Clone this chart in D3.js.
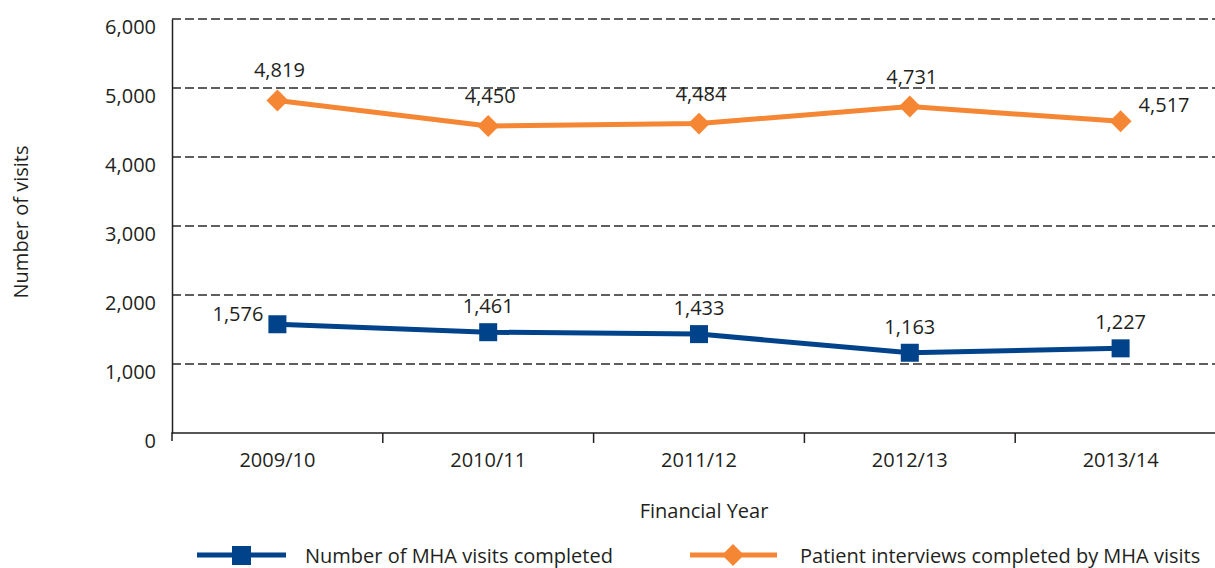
<!DOCTYPE html>
<html><head><meta charset="utf-8">
<script src="https://cdn.jsdelivr.net/npm/d3@7"></script>
<style>body{margin:0;background:#fff}svg{display:block}text{font-family:"Open Sans","Noto Sans",sans-serif;fill:#231f20}</style>
</head><body><svg id="c" width="1215" height="568"></svg>
<script>
const years = ["2009/10","2010/11","2011/12","2012/13","2013/14"];
const visits = [1576,1461,1433,1163,1227];
const interviews = [4819,4450,4484,4731,4517];
const yTicks = [0,1000,2000,3000,4000,5000,6000];
const seriesNames = ["Number of MHA visits completed","Patient interviews completed by MHA visits"];
const blue = "#00438a", orange = "#f58634";

(function(){
const svg = d3.select("#c");
const fs = 20;
const pl = 172, pr = 1226, pt = 19, pb = 433;
const x = d3.scaleBand().domain(years).range([pl,pr]);
const y = d3.scaleLinear().domain([0,6000]).range([pb,pt]);
const cx = d => x(d)+x.bandwidth()/2;

// grid
svg.append("g").selectAll("line").data(yTicks.filter(t=>t>0)).join("line")
  .attr("x1",pl).attr("x2",1215).attr("y1",d=>y(d)).attr("y2",d=>y(d))
  .attr("stroke","#2a2a2a").attr("stroke-width",1.3).attr("stroke-dasharray","9,4");

// y axis
const ya = svg.append("g").attr("transform",`translate(${pl},0)`)
  .call(d3.axisLeft(y).tickValues(yTicks).tickFormat(d3.format(",")).tickSize(0).tickPadding(16));
ya.select(".domain").attr("stroke","#231f20").attr("stroke-width",1.5);
ya.selectAll("text").attr("font-size",fs).attr("dy","0.7em").style("font-family",'"Open Sans","Noto Sans",sans-serif').attr("fill","#231f20");

// x axis
const xa = svg.append("g").attr("transform",`translate(0,${pb})`)
  .call(d3.axisBottom(x).tickSize(0).tickPadding(20));
xa.select(".domain").attr("stroke","#231f20").attr("stroke-width",1.5).attr("d",`M${pl},8V0H1215`);
xa.selectAll("text").attr("font-size",fs).style("font-family",'"Open Sans","Noto Sans",sans-serif').attr("fill","#231f20");
svg.append("g").selectAll("line").data(years.slice(1)).join("line")
  .attr("x1",d=>x(d)).attr("x2",d=>x(d)).attr("y1",pb).attr("y2",pb+10)
  .attr("stroke","#231f20").attr("stroke-width",1.5);

// titles
svg.append("text").attr("transform","translate(28,222) rotate(-90)").attr("text-anchor","middle")
  .attr("font-size",fs).text("Number of visits");
svg.append("text").attr("x",704).attr("y",518).attr("text-anchor","middle").attr("font-size",fs).text("Financial Year");

const line = d3.line().x((d,i)=>cx(years[i])).y(d=>y(d));
svg.append("path").datum(visits).attr("d",line).attr("fill","none").attr("stroke",blue).attr("stroke-width",5);
svg.append("path").datum(interviews).attr("d",line).attr("fill","none").attr("stroke",orange).attr("stroke-width",5);

svg.append("g").selectAll("rect").data(visits).join("rect")
  .attr("x",(d,i)=>cx(years[i])-9).attr("y",d=>y(d)-9).attr("width",18).attr("height",18).attr("fill",blue);
const diamond = d3.symbol().type(d3.symbolSquare).size(240);
svg.append("g").selectAll("path").data(interviews).join("path")
  .attr("d",diamond()).attr("transform",(d,i)=>`translate(${cx(years[i])},${y(d)}) rotate(45)`).attr("fill",orange);

const fmt = d3.format(",");
svg.append("g").selectAll("text").data(interviews).join("text")
  .attr("x",(d,i)=>i===4?cx(years[i])+18:cx(years[i])+2).attr("y",(d,i)=>i===4?y(d)-9:y(d)-23)
  .attr("text-anchor",(d,i)=>i===4?"start":"middle").attr("font-size",fs).text(d=>fmt(d));
svg.append("g").selectAll("text").data(visits).join("text")
  .attr("x",(d,i)=>i===0?cx(years[i])-14:cx(years[i])).attr("y",(d,i)=>i===0?y(d)-3:y(d)-19)
  .attr("text-anchor",(d,i)=>i===0?"end":"middle").attr("font-size",fs).text(d=>fmt(d));

// legend
const lg = svg.append("g");
lg.append("line").attr("x1",197).attr("x2",286).attr("y1",555).attr("y2",555).attr("stroke",blue).attr("stroke-width",5);
lg.append("rect").attr("x",232).attr("y",546).attr("width",19).attr("height",19).attr("fill",blue);
lg.append("text").attr("x",305).attr("y",563).attr("font-size",fs).text(seriesNames[0]);
lg.append("line").attr("x1",690).attr("x2",777).attr("y1",555).attr("y2",555).attr("stroke",orange).attr("stroke-width",5);
lg.append("path").attr("d",diamond()).attr("transform","translate(733,555) rotate(45)").attr("fill",orange);
lg.append("text").attr("x",800).attr("y",563).attr("font-size",fs).text(seriesNames[1]);
})();
</script></body></html>
